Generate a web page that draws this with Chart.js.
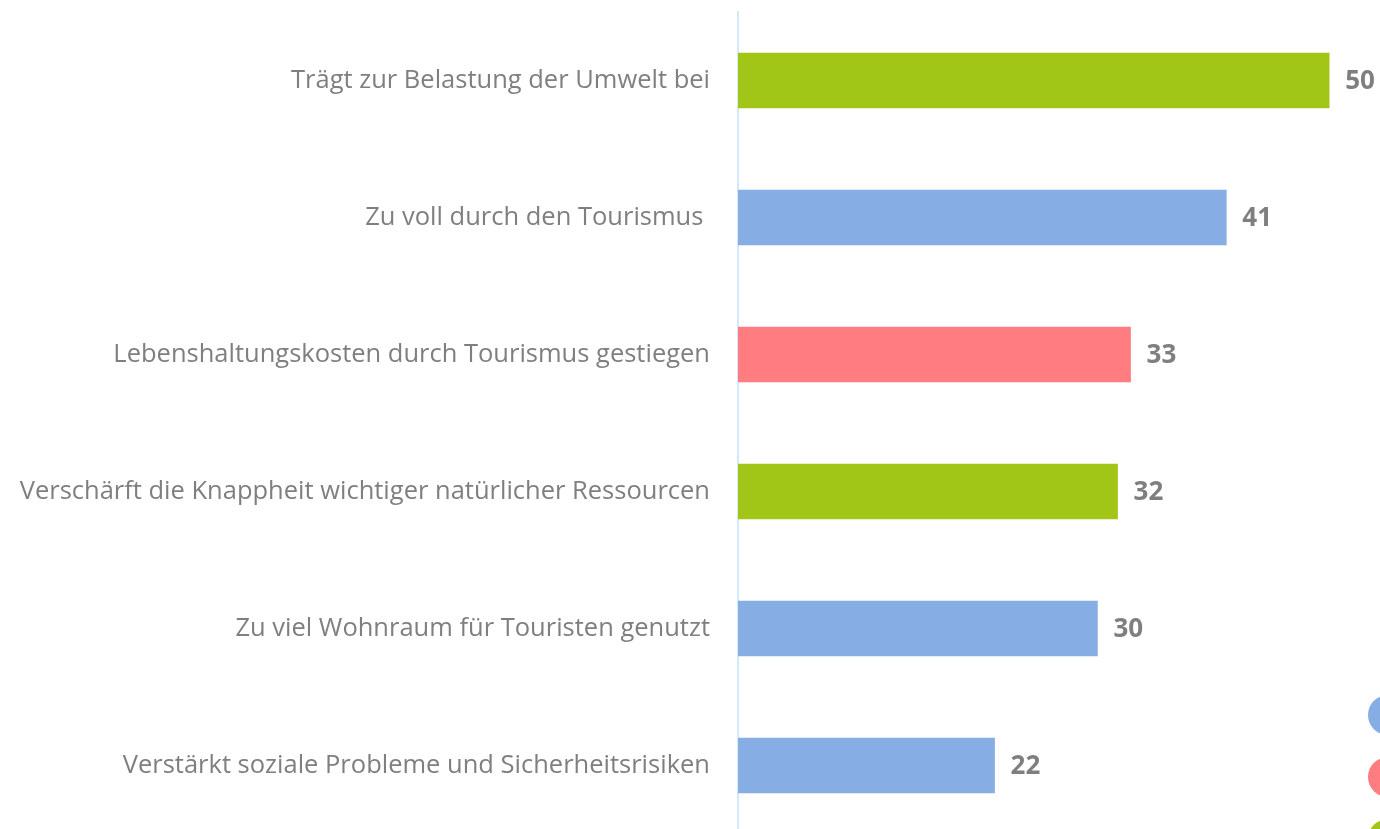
<!DOCTYPE html>
<html>
<head>
<meta charset="utf-8">
<script src="https://cdn.jsdelivr.net/npm/chart.js@4/dist/chart.umd.min.js"></script>
<style>
  html, body { margin: 0; padding: 0; background: #fff; overflow: hidden; }
  #wrap { position: relative; width: 1380px; height: 834px; }
</style>
</head>
<body>
<div id="wrap"><canvas id="chart"></canvas></div>
<script>
const categories = [
  'Trägt zur Belastung der Umwelt bei',
  'Zu voll durch den Tourismus ',
  'Lebenshaltungskosten durch Tourismus gestiegen',
  'Verschärft die Knappheit wichtiger natürlicher Ressourcen',
  'Zu viel Wohnraum für Touristen genutzt',
  'Verstärkt soziale Probleme und Sicherheitsrisiken'
];
const values = [50, 41.3, 33.2, 32.1, 30.4, 21.7];
const shownLabels = ['50', '41', '33', '32', '30', '22'];
const groups = ['umwelt', 'sozial', 'kosten', 'umwelt', 'sozial', 'sozial'];

const groupColors = { sozial: '#86aee4', kosten: '#ff7c80', umwelt: '#a2c617' };
const markerGroups = ['sozial', 'kosten', 'umwelt'];

// Werte rechts neben die Balken schreiben
const valueLabels = {
  id: 'valueLabels',
  afterDatasetsDraw(chart) {
    const ctx = chart.ctx;
    const meta = chart.getDatasetMeta(0);
    ctx.save();
    ctx.font = 'bold 26px "Open Sans", sans-serif';
    ctx.fillStyle = '#7f7f7f';
    ctx.textAlign = 'left';
    ctx.textBaseline = 'middle';
    meta.data.forEach((bar, i) => {
      ctx.fillText(shownLabels[i], bar.x + 16, bar.y + 1);
    });
    ctx.restore();
  }
};

// abgeschnittene Legendenpunkte am rechten Rand
const edgeMarkers = {
  id: 'edgeMarkers',
  afterDraw(chart) {
    const ctx = chart.ctx;
    ctx.save();
    markerGroups.forEach((g, i) => {
      ctx.beginPath();
      ctx.fillStyle = groupColors[g];
      ctx.arc(chart.width + 8, 715 + i * 62, 20, 0, Math.PI * 2);
      ctx.fill();
    });
    ctx.restore();
  }
};

const ctx = document.getElementById('chart').getContext('2d');
new Chart(ctx, {
  type: 'bar',
  data: {
    labels: categories,
    datasets: [{
      data: values,
      backgroundColor: groups.map(g => groupColors[g]),
      barThickness: 55
    }]
  },
  options: {
    indexAxis: 'y',
    responsive: true,
    maintainAspectRatio: false,
    animation: false,
    layout: { padding: { top: 12, right: 0, bottom: 0, left: 0 } },
    plugins: {
      legend: { display: false },
      tooltip: { enabled: false }
    },
    scales: {
      x: {
        display: false,
        min: 0,
        max: 54.3
      },
      y: {
        afterFit(scale) {
          scale.width = 738;
          scale.paddingTop = 0;
          scale.paddingBottom = 0;
        },
        grid: { display: false, drawTicks: false },
        border: { display: true, color: '#d5e8f8', width: 2 },
        ticks: {
          color: '#7f7f7f',
          padding: 28,
          font: { family: '"Open Sans", sans-serif', size: 25.5 }
        }
      }
    }
  },
  plugins: [valueLabels, edgeMarkers]
});
</script>
</body>
</html>
